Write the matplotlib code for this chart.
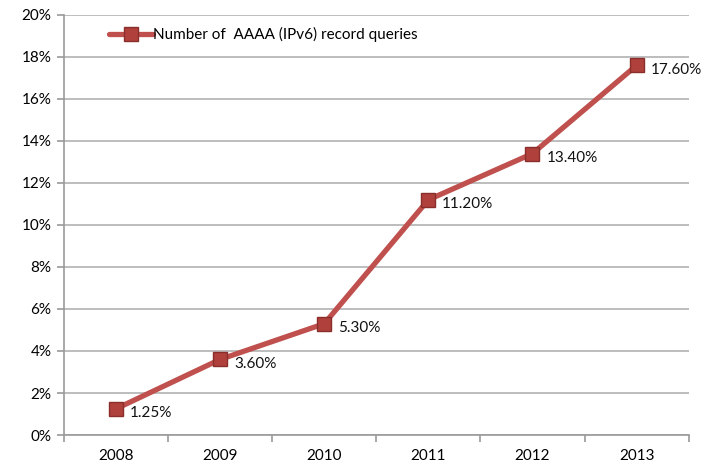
import numpy as np
import matplotlib.pyplot as plt
from matplotlib.ticker import FixedLocator

years = ['2008', '2009', '2010', '2011', '2012', '2013']
share = [1.25, 3.60, 5.30, 11.20, 13.40, 17.60]
labels = ['1.25%', '3.60%', '5.30%', '11.20%', '13.40%', '17.60%']
yticks = [0, 2, 4, 6, 8, 10, 12, 14, 16, 18, 20]

plt.rcParams['font.family'] = ['Lato', 'DejaVu Sans']

fig = plt.figure(figsize=(7.05, 4.68), dpi=100)
ax = fig.add_axes([0.0908, 0.0705, 0.886, 0.8975])

x = np.arange(len(years))
ax.plot(x, share, color='#bf504d', lw=3.8, marker='s', ms=9.5,
        mfc='#b0403c', mec='#8a2e2b', mew=1.0, solid_capstyle='round',
        label='Number of  AAAA (IPv6) record queries', zorder=3)

for xi, yi, t in zip(x, share, labels):
    ax.annotate(t, (xi, yi), xytext=(10, -3), textcoords='offset points',
                ha='left', va='center', fontsize=11, color='#111111')

ax.set_xlim(-0.5, len(years) - 0.5)
ax.set_ylim(0, 20)
ax.set_yticks(yticks)
ax.set_yticklabels([f'{v}%' for v in yticks])
ax.set_xticks(x)
ax.set_xticklabels(years)
ax.xaxis.set_minor_locator(FixedLocator(np.arange(-0.5, len(years), 1.0)))
ax.tick_params(axis='x', which='major', length=0, pad=10, labelsize=11)
ax.tick_params(axis='x', which='minor', length=5, width=1.2, color='#9a9a9a', direction='out')
ax.tick_params(axis='y', length=5, width=1.2, color='#9a9a9a', labelsize=11, pad=4)

ax.grid(axis='y', color='#bdbdbd', lw=1.4)
ax.set_axisbelow(True)
for s in ['top', 'right']:
    ax.spines[s].set_visible(False)
for s in ['left', 'bottom']:
    ax.spines[s].set_color('#9a9a9a')
    ax.spines[s].set_linewidth(1.2)

ax.legend(loc='upper left', bbox_to_anchor=(0.062, 0.985), frameon=False,
          fontsize=11, handlelength=2.9, handletextpad=0.0, borderaxespad=0)

fig.savefig('out.png', dpi=100)
